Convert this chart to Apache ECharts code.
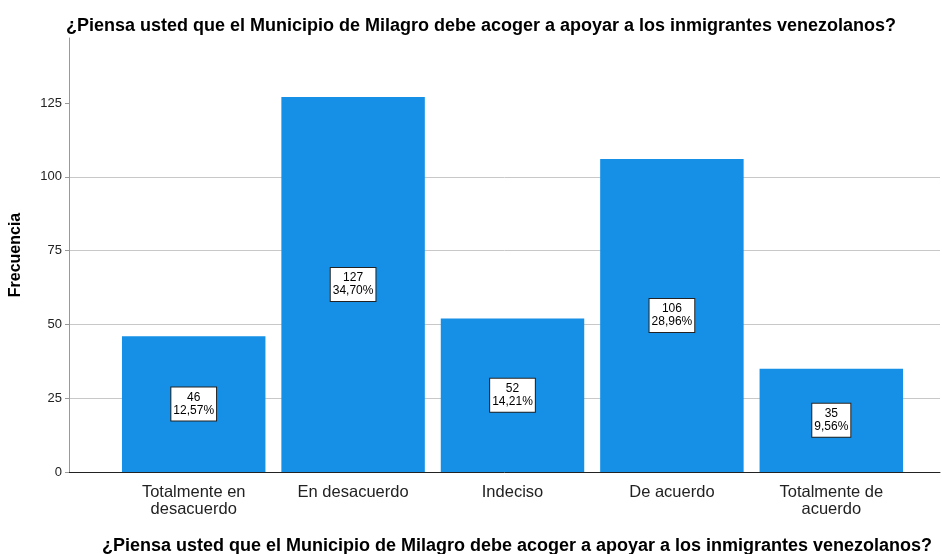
<!DOCTYPE html>
<html>
<head>
<meta charset="utf-8">
<script src="https://cdn.jsdelivr.net/npm/echarts@6/dist/echarts.min.js"></script>
<style>
  html, body { margin: 0; padding: 0; background: #fff; }
  #main { width: 942px; height: 554px; }
</style>
</head>
<body>
<div id="main"></div>
<script>
var categories = ['Totalmente en\ndesacuerdo', 'En desacuerdo', 'Indeciso', 'De acuerdo', 'Totalmente de\nacuerdo'];
var counts = [46, 127, 52, 106, 35];
var percents = ['12,57%', '34,70%', '14,21%', '28,96%', '9,56%'];
var yTicks = [0, 25, 50, 75, 100, 125];

var titleText = '¿Piensa usted que el Municipio de Milagro debe acoger a apoyar a los inmigrantes venezolanos?';
var font = 'Liberation Sans, Arial, sans-serif';

var chart = echarts.init(document.getElementById('main'));

var option = {
    animation: false,
    title: [{
        text: titleText,
        left: 476,
        top: 12,
        textAlign: 'center',
        textStyle: { fontFamily: font, fontSize: 18, fontWeight: 'bold', color: '#000' }
    }, {
        text: titleText,
        left: 512,
        top: 532,
        textAlign: 'center',
        textStyle: { fontFamily: font, fontSize: 18, fontWeight: 'bold', color: '#000' }
    }],
    grid: [
        // frame: y axis, gridlines, baseline
        { left: 69, right: 2, top: 38, bottom: 82 },
        // bars
        { left: 114, right: 31, top: 38, bottom: 82 }
    ],
    xAxis: [{
        gridIndex: 0,
        type: 'value',
        min: 0, max: 1,
        axisLine: { show: true, onZero: false, lineStyle: { color: '#222', width: 1 } },
        axisTick: { show: false },
        axisLabel: { show: false },
        splitLine: { show: false }
    }, {
        gridIndex: 1,
        type: 'category',
        data: categories,
        axisLine: { show: false },
        axisTick: { show: false },
        axisLabel: {
            fontFamily: font, fontSize: 16.5, color: '#222', lineHeight: 17,
            margin: 12, interval: 0
        }
    }],
    yAxis: [{
        gridIndex: 0,
        type: 'value',
        min: 0, max: 147, interval: 25,
        name: 'Frecuencia',
        nameLocation: 'middle',
        nameGap: 45,
        nameTextStyle: { fontFamily: font, fontSize: 16, fontWeight: 'bold', color: '#000' },
        axisLine: { show: true, lineStyle: { color: '#999' } },
        axisTick: { show: true, length: 4, customValues: yTicks, lineStyle: { color: '#999' } },
        axisLabel: {
            fontFamily: font, fontSize: 13, color: '#222', margin: 7,
            customValues: yTicks
        },
        splitLine: { show: true, showMaxLine: false, showMinLine: false, lineStyle: { color: '#c8c8c8', width: 1 } }
    }, {
        gridIndex: 1,
        type: 'value',
        min: 0, max: 147, interval: 25,
        show: false
    }],
    series: [{
        type: 'bar',
        xAxisIndex: 1,
        yAxisIndex: 1,
        data: counts,
        barCategoryGap: '10%',
        itemStyle: { color: '#1590e6' },
        label: {
            show: true,
            position: 'inside',
            formatter: function (p) { return p.value + '\n' + percents[p.dataIndex]; },
            fontFamily: font,
            fontSize: 12,
            lineHeight: 13,
            color: '#000',
            backgroundColor: '#fff',
            borderColor: '#222',
            borderWidth: 1,
            padding: [4, 2, 3, 2]
        }
    }]
};

chart.setOption(option);
</script>
</body>
</html>
